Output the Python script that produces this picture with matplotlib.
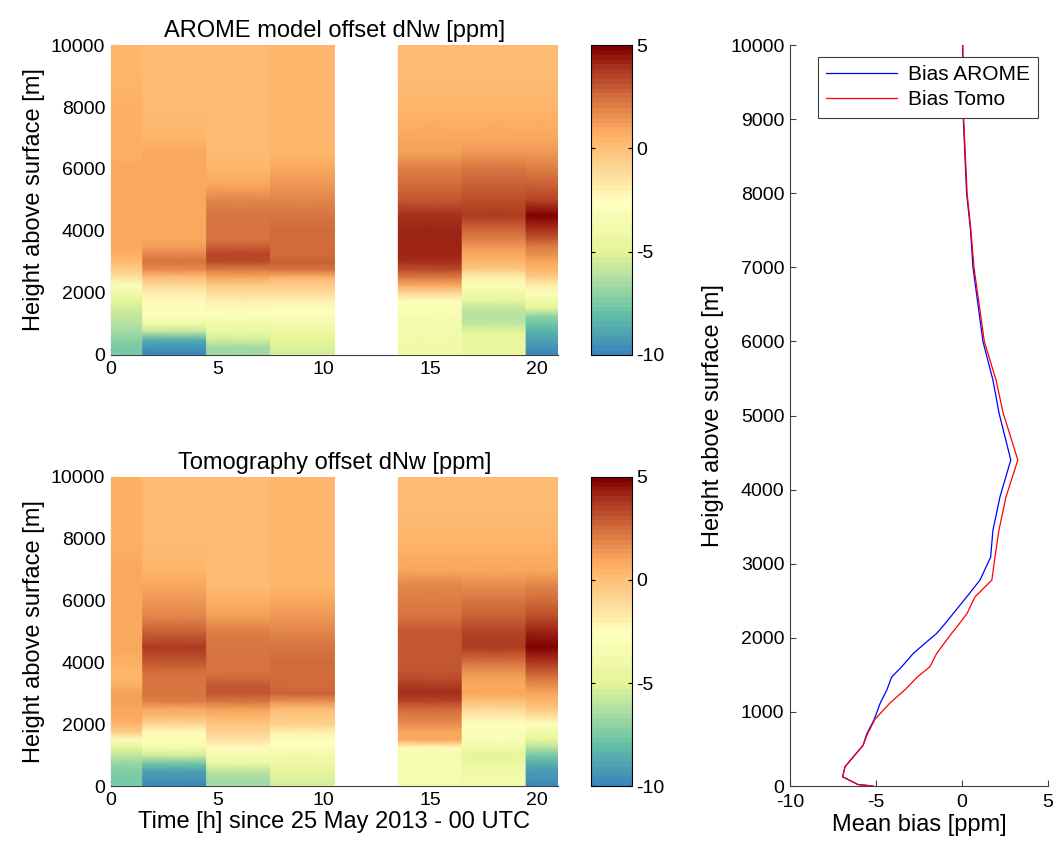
import numpy as np
import matplotlib
matplotlib.use('Agg')
import matplotlib.pyplot as plt
from matplotlib.colors import LinearSegmentedColormap

plt.rcParams['font.family'] = ['Liberation Sans', 'DejaVu Sans']
plt.rcParams['axes.unicode_minus'] = False

# time of each profile [h] (12 h missing)
times = [0, 3, 6, 9, 12, 15, 18, 21]
heights = [0, 250, 500, 750, 1000, 1250, 1500, 1750, 2000, 2250, 2500, 2750, 3000,
           3250, 3500, 3750, 4000, 4500, 5000, 5500, 6000, 6500, 7000, 8000, 9000, 10000]

# AROME offset dNw [ppm], one profile per time
arome_dnw = [
    [-7.5, -7.5, -7.0, -6.5, -6.2, -5.8, -5.5, -5.0, -4.0, -3.0, -1.5, -0.5, 0.3,
     0.6, 0.8, 0.8, 0.8, 0.8, 0.8, 0.8, 0.8, 0.7, 0.7, 0.6, 0.5, 0.5],
    [-9.8, -9.5, -8.5, -6.0, -4.0, -3.2, -2.8, -2.5, -2.0, -1.0, 0.0, 1.5, 2.2,
     1.8, 1.2, 1.0, 1.0, 1.0, 1.0, 1.0, 1.0, 0.8, 0.4, 0.3, 0.3, 0.3],
    [-6.5, -6.5, -5.5, -4.5, -4.0, -3.2, -2.5, -1.8, -1.2, -0.5, 0.8, 2.0, 3.3,
     3.5, 2.8, 2.4, 2.3, 2.3, 1.8, 0.8, 0.4, 0.3, 0.2, 0.2, 0.2, 0.3],
    [-5.5, -5.3, -5.0, -4.5, -3.8, -3.2, -2.8, -2.0, -1.2, -0.6, 0.5, 2.2, 2.7,
     2.6, 2.5, 2.5, 2.5, 2.2, 1.8, 1.4, 0.9, 0.5, 0.4, 0.4, 0.4, 0.4],
    None,
    [-4.0, -4.0, -3.8, -3.8, -3.8, -3.6, -3.2, -2.5, -1.0, 0.8, 2.0, 3.2, 3.9,
     4.1, 4.1, 4.1, 4.1, 4.0, 3.0, 2.5, 2.0, 1.2, 0.8, 0.4, 0.3, 0.3],
    [-4.5, -4.5, -4.5, -5.0, -6.0, -6.2, -6.0, -4.8, -4.0, -3.0, -2.0, -0.5, 0.5,
     1.0, 1.3, 2.0, 2.5, 3.8, 3.3, 2.8, 2.3, 1.3, 0.8, 0.4, 0.3, 0.3],
    [-10.0, -9.5, -9.0, -8.5, -7.8, -7.0, -5.0, -4.0, -3.0, -2.0, -0.5, 0.5, 1.0,
     1.5, 2.0, 3.0, 3.8, 4.8, 3.5, 2.8, 2.0, 1.3, 0.8, 0.4, 0.3, 0.3],
]

# Tomography offset dNw [ppm]
tomo_dnw = [
    [-7.5, -7.5, -7.2, -6.8, -6.0, -5.0, -2.5, -0.5, 0.5, 0.8, 1.0, 1.2, 1.2,
     0.6, 0.5, 0.5, 0.7, 1.0, 0.8, 0.8, 0.8, 0.8, 0.8, 0.7, 0.6, 0.6],
    [-9.8, -9.5, -9.0, -7.5, -5.5, -3.5, -3.0, -2.5, -1.0, 0.3, 1.0, 2.0, 2.2,
     2.2, 2.2, 2.5, 3.0, 3.8, 2.8, 1.8, 1.3, 0.8, 0.4, 0.3, 0.3, 0.3],
    [-6.5, -6.5, -6.0, -4.2, -3.5, -2.5, -1.5, -0.8, -0.2, 0.5, 1.2, 2.3, 3.0,
     3.0, 2.5, 2.3, 2.3, 2.3, 2.0, 1.2, 0.6, 0.3, 0.2, 0.2, 0.2, 0.3],
    [-5.5, -5.2, -4.8, -4.3, -3.8, -3.2, -2.8, -1.8, -0.8, -0.3, 0.3, 1.5, 2.7,
     2.6, 2.5, 2.5, 2.5, 2.4, 1.8, 1.3, 0.8, 0.5, 0.4, 0.4, 0.4, 0.4],
    None,
    [-3.5, -3.5, -3.5, -3.5, -3.5, -2.5, 0.8, 1.0, 1.5, 2.0, 2.5, 3.5, 4.0,
     3.8, 3.2, 3.0, 3.0, 3.0, 3.0, 2.3, 2.0, 1.8, 1.0, 0.4, 0.3, 0.3],
    [-3.8, -3.8, -4.0, -4.5, -5.0, -4.0, -3.2, -3.0, -2.8, -2.0, -1.0, 0.0, 0.8,
     1.0, 1.2, 1.5, 2.2, 3.8, 3.5, 2.8, 2.2, 1.5, 0.9, 0.4, 0.3, 0.3],
    [-10.0, -9.5, -9.2, -8.5, -7.5, -6.2, -5.0, -3.8, -2.8, -1.5, -0.3, 0.5, 1.0,
     1.5, 2.2, 3.0, 3.8, 5.0, 4.2, 3.2, 2.5, 1.8, 1.0, 0.5, 0.3, 0.3],
]

# mean bias profiles [ppm]
bias_height = [0, 20, 125, 260, 550, 700, 900, 1120, 1300, 1470, 1610, 1790, 2060, 2200,
               2330, 2550, 2780, 3090, 3450, 3900, 4400, 5030, 5480, 6000, 7000, 7500,
               8000, 9000, 10000]
bias_arome = [-5.17, -6.05, -6.94, -6.8, -5.75, -5.54, -5.1, -4.75, -4.36, -4.09, -3.5,
              -2.83, -1.47, -0.95, -0.5, 0.27, 1.05, 1.67, 1.8, 2.21, 2.84, 2.16, 1.8,
              1.22, 0.64, 0.5, 0.27, 0.08, 0.04]
bias_tomo = [-5.17, -6.05, -6.94, -6.8, -5.75, -5.5, -5.06, -4.19, -3.31, -2.6, -1.86,
             -1.47, -0.6, -0.12, 0.3, 0.75, 1.74, 1.92, 2.15, 2.56, 3.25, 2.4, 1.98, 1.3,
             0.7, 0.52, 0.3, 0.1, 0.05]

vmin, vmax = -10, 5
cstops = [(-10, '#3a86bb'), (-8, '#66c2a5'), (-6.5, '#abdda4'), (-5, '#e6f598'),
          (-2.6, '#ffffbf'), (-1, '#fdd897'), (0.8, '#fdae61'), (2.5, '#d4703e'),
          (4, '#a8321c'), (5, '#800000')]
cmap = LinearSegmentedColormap.from_list(
    'dnw', [((v - vmin) / (vmax - vmin), c) for v, c in cstops], N=64)

LABEL = 17
TICK = 14

fig = plt.figure(figsize=(10.55, 8.46), dpi=100)

t = np.array(times, dtype=float)
edges = np.concatenate([[t[0]], (t[:-1] + t[1:]) / 2, [t[-1]]])
H = np.array(heights, dtype=float)


def heat(ax, data, title):
    for i, prof in enumerate(data):
        if prof is None:
            continue
        X = np.tile([edges[i], edges[i + 1]], (len(H), 1))
        Y = np.column_stack([H, H])
        C = np.column_stack([prof, prof])
        m = ax.pcolormesh(X, Y, C, shading='gouraud', cmap=cmap, vmin=vmin, vmax=vmax,
                          zorder=1)
    ax.set_xlim(0, 21)
    ax.set_ylim(0, 10000)
    ax.set_xticks([0, 5, 10, 15, 20])
    ax.set_yticks(range(0, 10001, 2000))
    ax.set_axisbelow(True)
    for s in ['top', 'right']:
        ax.spines[s].set_visible(False)
    for s in ['left', 'bottom']:
        ax.spines[s].set_zorder(0.5)
        ax.spines[s].set_color('#404040')
    ax.tick_params(direction='in', length=4, labelsize=TICK, color='#404040', pad=4)
    ax.set_ylabel('Height above surface [m]', fontsize=LABEL, labelpad=4)
    ax.set_title(title, fontsize=LABEL, pad=6)
    return m


ax1 = fig.add_axes([0.105, 0.5804, 0.424, 0.3664])
m1 = heat(ax1, arome_dnw, 'AROME model offset dNw [ppm]')
ax2 = fig.add_axes([0.105, 0.0709, 0.424, 0.3653])
m2 = heat(ax2, tomo_dnw, 'Tomography offset dNw [ppm]')
ax2.set_xlabel('Time [h] since 25 May 2013 - 00 UTC', fontsize=LABEL, labelpad=2)

for m, pos in [(m1, [0.560, 0.5804, 0.0394, 0.3664]), (m2, [0.560, 0.0709, 0.0394, 0.3653])]:
    cax = fig.add_axes(pos)
    cb = fig.colorbar(m, cax=cax, ticks=[-10, -5, 0, 5])
    cb.outline.set_linewidth(0.8)
    cax.tick_params(direction='in', left=True, right=True, length=3, labelsize=TICK, pad=3)

ax3 = fig.add_axes([0.7488, 0.0709, 0.2445, 0.8759])
ax3.plot(bias_arome, bias_height, color='blue', lw=0.9, label='Bias AROME')
ax3.plot(bias_tomo, bias_height, color='red', lw=0.9, label='Bias Tomo')
ax3.set_xlim(-10, 5)
ax3.set_ylim(0, 10000)
ax3.set_xticks([-10, -5, 0, 5])
ax3.set_yticks(range(0, 10001, 1000))
for s in ['top', 'right']:
    ax3.spines[s].set_visible(False)
for s in ['left', 'bottom']:
    ax3.spines[s].set_color('#404040')
ax3.tick_params(direction='in', length=4, labelsize=TICK, color='#404040', pad=4)
ax3.tick_params(axis='x', pad=6)
ax3.set_ylabel('Height above surface [m]', fontsize=LABEL, labelpad=4)
ax3.set_xlabel('Mean bias [ppm]', fontsize=LABEL, labelpad=2)
leg = ax3.legend(loc='upper right', bbox_to_anchor=(0.961, 0.984), borderaxespad=0,
                 fontsize=15, fancybox=False, framealpha=1, edgecolor='#404040',
                 handlelength=3.4, handletextpad=0.5, borderpad=0.4, labelspacing=0.3)
leg.get_frame().set_linewidth(0.8)

fig.savefig('out.png', dpi=100)
